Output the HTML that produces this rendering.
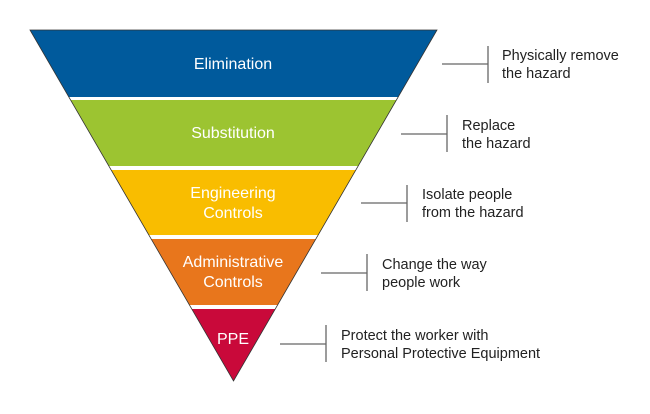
<!DOCTYPE html>
<html><head><style>
html,body{margin:0;padding:0;background:#fff;}
svg{display:block;}
text{font-family:"Liberation Sans",Arial,sans-serif;}
</style></head><body>
<svg width="650" height="414" viewBox="0 0 650 414" xmlns="http://www.w3.org/2000/svg">
<defs><clipPath id="tri"><polygon points="30,30 437,30 233.5,381"/></clipPath></defs>
<g clip-path="url(#tri)">
<rect x="0" y="30" width="650" height="67" fill="#005a9c"/>
<rect x="0" y="100" width="650" height="66" fill="#9cc431"/>
<rect x="0" y="170" width="650" height="65" fill="#f9bd00"/>
<rect x="0" y="239" width="650" height="66" fill="#e8761c"/>
<rect x="0" y="309" width="650" height="80" fill="#c9093a"/>
</g>
<polygon points="30,30 437,30 233.5,381" fill="none" stroke="#333" stroke-width="0.8"/>
<g fill="#fff" font-size="16" text-anchor="middle">
<text x="233" y="69">Elimination</text>
<text x="233" y="138">Substitution</text>
<text x="233" y="198">Engineering</text>
<text x="233" y="218">Controls</text>
<text x="233" y="267">Administrative</text>
<text x="233" y="287">Controls</text>
<text x="233" y="344">PPE</text>
</g>
<g stroke="#666" stroke-width="1.3" fill="none">
<path d="M442 64H488M488 46V83"/>
<path d="M401 134H447M447 115V152"/>
<path d="M361 203H407M407 185V222"/>
<path d="M321 273H367M367 254V291"/>
<path d="M280 344H326M326 325V362"/>
</g>
<g fill="#222" font-size="14.5">
<text x="502" y="60">Physically remove</text>
<text x="502" y="78">the hazard</text>
<text x="462" y="130">Replace</text>
<text x="462" y="148">the hazard</text>
<text x="422" y="199">Isolate people</text>
<text x="422" y="217">from the hazard</text>
<text x="382" y="269">Change the way</text>
<text x="382" y="287">people work</text>
<text x="341" y="340">Protect the worker with</text>
<text x="341" y="358">Personal Protective Equipment</text>
</g>
</svg>
</body></html>
